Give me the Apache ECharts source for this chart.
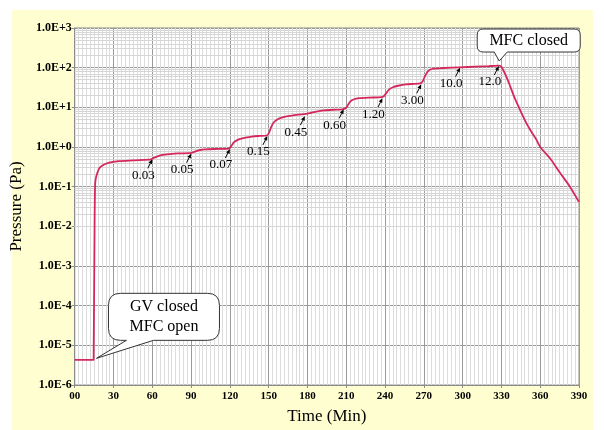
<!DOCTYPE html>
<html><head><meta charset="utf-8">
<script src="https://cdn.jsdelivr.net/npm/echarts@6/dist/echarts.min.js"></script>
<style>html,body{margin:0;padding:0;background:#fff}#c{width:604px;height:430px}</style>
</head><body><div id="c"></div>
<script>
// ---- data ----
const timeMin = [0, 14.6, 15, 15.4, 15.7, 16, 17, 19, 22, 26, 34, 45, 57, 59, 61, 64, 68, 73, 80, 89, 91, 94, 97, 101, 108, 119,
  121, 123, 125, 128, 132, 137, 143, 148.5, 150, 152, 154, 157, 160, 165, 170, 177, 183, 188, 193, 200, 207,
  209, 211, 213, 216, 220, 228, 237, 239, 241, 243, 246, 250, 256, 267, 269, 271, 273, 275, 278, 285, 298, 310, 320, 328,
  330, 335, 340, 345, 350, 354, 357, 360, 368, 375, 383, 390];
const pressurePa = [4.3e-6, 4.3e-6, 4.3e-6, 0.02, 0.1, 0.14, 0.2, 0.29, 0.35, 0.40, 0.44, 0.46, 0.48, 0.49, 0.53, 0.58, 0.63, 0.66, 0.69, 0.70, 0.73, 0.79, 0.84, 0.87, 0.89, 0.91,
  1.05, 1.3, 1.45, 1.6, 1.72, 1.83, 1.9, 1.95, 2.2, 3.2, 4.2, 5.0, 5.5, 6.0, 6.4, 6.7, 7.3, 7.9, 8.4, 8.7, 8.9,
  9.3, 11, 14, 16, 17, 17.6, 18, 19, 23, 28, 32, 35, 38, 40, 45, 62, 80, 90, 95, 98, 102, 106, 109, 112,
  105, 48, 18, 7.8, 3.6, 2.2, 1.55, 1.0, 0.5, 0.23, 0.1, 0.041];
const xTicks = [0, 30, 60, 90, 120, 150, 180, 210, 240, 270, 300, 330, 360, 390];
const yDecadeExponents = [-6, -5, -4, -3, -2, -1, 0, 1, 2, 3];
const stepLabels = ['0.03', '0.05', '0.07', '0.15', '0.45', '0.60', '1.20', '3.00', '10.0', '12.0'];
const stepTimes = [60, 90, 120, 149, 178, 208, 238, 268, 298, 328];
const stepValues = [0.49, 0.68, 0.89, 1.9, 6.0, 8.9, 17, 38, 100, 110];
const calloutTexts = [['GV closed', 'MFC open'], ['MFC closed']];
const calloutTimes = [16.8, 328.3];
const calloutValues = [4.7e-6, 147];

// ---- chart ----
const SERIF = '"Liberation Serif","Times New Roman",serif';
const minorValues = [];
for (let k = yDecadeExponents[0]; k < yDecadeExponents[yDecadeExponents.length - 1]; k++) {
  for (let m = 2; m <= 9; m++) minorValues.push(m * Math.pow(10, k));
}

const chart = echarts.init(document.getElementById('c'), null, { renderer: 'canvas' });

function fmtE(v) {
  const e = Math.round(Math.log10(v));
  return '1.0E' + (e >= 0 ? '+' : '-') + Math.abs(e);
}

const option = {
  animation: false,
  backgroundColor: '#ffffff',
  graphic: [{ type: 'rect', z: -10, shape: { x: 12, y: 10, width: 581, height: 420 }, style: { fill: '#fefed0' } }],
  grid: { left: 68, right: 25, top: 28, bottom: 37, show: true, backgroundColor: '#ffffff', borderColor: '#8a8a8a', borderWidth: 1 },
  xAxis: {
    type: 'value', min: xTicks[0], max: xTicks[xTicks.length - 1], interval: 30,
    name: 'Time (Min)', nameLocation: 'middle', nameGap: 23,
    nameTextStyle: { fontFamily: SERIF, fontSize: 17, color: '#000' },
    axisLine: { show: true, lineStyle: { color: '#8a8a8a' } },
    axisTick: { show: true, length: 3, lineStyle: { color: '#8a8a8a' } },
    axisLabel: { fontFamily: SERIF, fontSize: 11, fontWeight: 'bold', color: '#000', margin: 6,
      formatter: v => v === 0 ? '00' : String(v) },
    splitLine: { show: true, lineStyle: { color: '#9a9a9a', width: 1 } },
    minorTick: { show: false, splitNumber: 10 },
    minorSplitLine: { show: true, lineStyle: { color: '#dcdcdc', width: 1 } }
  },
  yAxis: {
    type: 'log', logBase: 10, min: Math.pow(10, yDecadeExponents[0]), max: Math.pow(10, yDecadeExponents[yDecadeExponents.length - 1]),
    splitNumber: 9,
    name: 'Pressure (Pa)', nameLocation: 'middle', nameGap: 34,
    nameTextStyle: { fontFamily: SERIF, fontSize: 17, color: '#000' },
    axisLine: { show: true, lineStyle: { color: '#8a8a8a' } },
    axisTick: { show: true, length: 3, lineStyle: { color: '#8a8a8a' } },
    axisLabel: { fontFamily: SERIF, fontSize: 12, fontWeight: 'bold', color: '#000', margin: 3, formatter: fmtE },
    splitLine: { show: true, lineStyle: { color: '#9a9a9a', width: 1 } }
  },
  series: [
    {
      type: 'line', z: 1, silent: true, data: [], symbol: 'none',
      markLine: {
        silent: true, symbol: ['none', 'none'], label: { show: false }, animation: false,
        lineStyle: { color: '#d6d6d6', width: 1, type: 'solid' },
        data: minorValues.map(v => ({ yAxis: v }))
      }
    },
    {
      type: 'line', z: 5, symbol: 'none', smooth: 0.25,
      lineStyle: { color: '#d4285c', width: 1.8 },
      data: timeMin.map((t, i) => [t, pressurePa[i]])
    },
    {
      type: 'custom', z: 6, silent: true,
      data: stepTimes.map((t, i) => [t, stepValues[i], i]),
      renderItem: function (params, api) {
        const p = api.coord([api.value(0), api.value(1)]);
        const i = api.value(2);
        const sx = p[0] - 4.5, sy = p[1] + 9;
        const dx = p[0] - sx, dy = p[1] - sy;
        const len = Math.sqrt(dx * dx + dy * dy), ux = dx / len, uy = dy / len;
        const hb = 4.5, hw = 2;
        const bx = p[0] - ux * hb, by = p[1] - uy * hb;
        return {
          type: 'group',
          children: [
            { type: 'line', shape: { x1: sx, y1: sy, x2: bx, y2: by }, style: { stroke: '#000', lineWidth: 1 } },
            { type: 'polygon', shape: { points: [[p[0], p[1]], [bx - uy * hw, by + ux * hw], [bx + uy * hw, by - ux * hw]] }, style: { fill: '#000' } },
            { type: 'text', style: { x: p[0] - 9, y: p[1] + 16, text: stepLabels[i], fill: '#000', font: '13px ' + SERIF, align: 'center', verticalAlign: 'middle' } }
          ]
        };
      }
    },
    {
      type: 'custom', z: 7, silent: true,
      data: calloutTimes.map((t, i) => [t, calloutValues[i], i]),
      renderItem: function (params, api) {
        const p = api.coord([api.value(0), api.value(1)]);
        const i = api.value(2);
        const tx = p[0], ty = p[1];
        let L, R, T, B, b1, b2, r;
        if (i === 0) { L = tx + 12; R = tx + 123; T = ty - 65; B = ty - 18; b1 = tx + 30; b2 = tx + 57; r = 12; }
        else { L = tx - 22; R = tx + 81; T = ty - 32; B = ty - 9; b1 = tx - 5; b2 = tx + 8; r = 6; }
        const d = `M${L + r},${T} H${R - r} Q${R},${T} ${R},${T + r} V${B - r} Q${R},${B} ${R - r},${B} H${b2} L${tx},${ty} L${b1},${B} H${L + r} Q${L},${B} ${L},${B - r} V${T + r} Q${L},${T} ${L + r},${T} Z`;
        const lines = calloutTexts[i];
        const cx = (L + R) / 2, cy = (T + B) / 2;
        const children = [{ type: 'path', shape: { pathData: d }, style: { fill: '#ffffff', stroke: '#333', lineWidth: 1 } }];
        lines.forEach((s, k) => {
          children.push({ type: 'text', style: { x: cx, y: cy + (k - (lines.length - 1) / 2) * 20, text: s, fill: '#000', font: '16px ' + SERIF, align: 'center', verticalAlign: 'middle' } });
        });
        return { type: 'group', children };
      }
    }
  ]
};
chart.setOption(option);
</script></body></html>
